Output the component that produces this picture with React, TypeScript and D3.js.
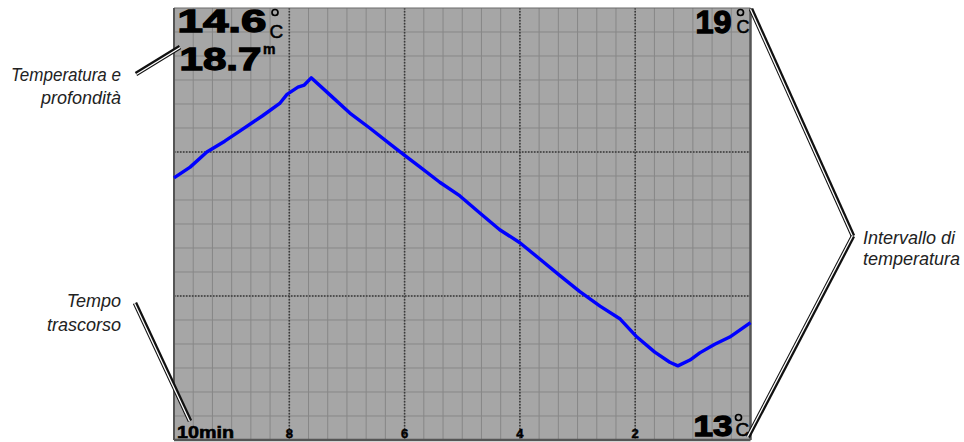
import React from "react";
import * as d3 from "d3";

// Elapsed time (minutes before now) and water temperature (°C)
const timeMin = [10, 9.72, 9.43, 9.12, 8.86, 8.47, 8.16, 8.04, 7.85, 7.74, 7.62, 7.29, 6.95, 6.6, 6.25, 6.01, 5.73, 5.39, 5.04, 4.69, 4.35, 4.0, 3.65, 3.3, 2.96, 2.61, 2.26, 1.97, 1.66, 1.4, 1.26, 1.05, 0.88, 0.62, 0.36, 0.0];
const tempC = [16.64, 16.79, 17.0, 17.15, 17.29, 17.5, 17.68, 17.8, 17.9, 17.93, 18.03, 17.79, 17.54, 17.33, 17.11, 16.96, 16.79, 16.58, 16.39, 16.15, 15.92, 15.74, 15.51, 15.28, 15.06, 14.86, 14.68, 14.43, 14.22, 14.08, 14.03, 14.11, 14.21, 14.33, 14.43, 14.63];

const xTickValues = [10, 8, 6, 4, 2];
const xTickLabels = ["10min", "8", "6", "4", "2"];
const majorTemps = [15, 17];
const tempRange = [13, 19];
const currentTemp = "14.6";
const currentDepth = "18.7";

const W = 964;
const H = 442;
const L = 174, R = 750.5, T = 8, B = 440;

function DoubleLine({ x1, y1, x2, y2 }: { x1: number; y1: number; x2: number; y2: number }) {
  const dx = x2 - x1, dy = y2 - y1;
  const len = Math.hypot(dx, dy);
  const nx = -dy / len, ny = dx / len;
  const o = 0.6;
  return (
    <g>
      <line x1={x1} y1={y1} x2={x2} y2={y2} stroke="#111" strokeWidth={4.6} />
      <line x1={x1 + nx * o} y1={y1 + ny * o} x2={x2 + nx * o} y2={y2 + ny * o} stroke="#fff" strokeWidth={1.3} />
    </g>
  );
}

export default function App() {
  const x = d3.scaleLinear().domain([10, 0]).range([L, R]);
  const y = d3.scaleLinear().domain([tempRange[0], tempRange[1]]).range([B, T]);
  const minorX = d3.range(1, 30).map((i) => i / 3);
  const minorY = d3.range(1, 18).map((i) => tempRange[0] + i / 3);
  const pts: [number, number][] = timeMin.map((t, i) => [t, tempC[i]]);
  const line = d3.line<[number, number]>().x((d) => x(d[0])).y((d) => y(d[1]));
  const font = "'Liberation Sans', Arial, sans-serif";

  const degC = (cx: number, cy: number, ctop: number, cx2: number, size: number) => (
    <g>
      <circle cx={cx} cy={cy} r={3} fill="none" stroke="#000" strokeWidth={1.7} />
      <text x={cx2} y={ctop} fontFamily={font} fontSize={size} fill="#000" stroke="#000" strokeWidth={0.5}>C</text>
    </g>
  );

  const heavy = { fontFamily: font, fontWeight: "bold" as const, stroke: "#000", strokeWidth: 1.3, fill: "#000" };

  return (
    <svg width={W} height={H} style={{ position: "absolute", left: 0, top: 0, display: "block", background: "#fff" }}>
      <rect x={L} y={T} width={R - L} height={B - T} fill="#a6a6a6" />
      {minorX.map((v) => (
        <line key={"vx" + v} x1={x(v)} x2={x(v)} y1={T} y2={B} stroke="#878787" strokeWidth={1} />
      ))}
      {minorY.map((v) => (
        <line key={"hy" + v} x1={L} x2={R} y1={y(v)} y2={y(v)} stroke="#878787" strokeWidth={1} />
      ))}
      {xTickValues.filter((v) => v !== 10).map((v) => (
        <line key={"mx" + v} x1={x(v)} x2={x(v)} y1={T} y2={B} stroke="#3a3a3a" strokeWidth={1.6} strokeDasharray="1.5,1.5" />
      ))}
      {majorTemps.map((v) => (
        <line key={"my" + v} x1={L} x2={R} y1={y(v)} y2={y(v)} stroke="#3a3a3a" strokeWidth={1.6} strokeDasharray="1.5,1.5" />
      ))}
      <line x1={L} x2={R} y1={T} y2={T} stroke="#6a6a6a" strokeWidth={1.2} />
      <line x1={L} x2={L} y1={T} y2={B} stroke="#555" strokeWidth={2} />
      <line x1={R} x2={R} y1={T} y2={B} stroke="#555" strokeWidth={2.5} />
      <line x1={L} x2={R} y1={B} y2={B} stroke="#555" strokeWidth={2.5} />

      <path d={line(pts) || ""} fill="none" stroke="#0000ff" strokeWidth={3.4} strokeLinejoin="round" />

      {/* readouts */}
      <text x={177.5} y={32} fontSize={31} textLength={89} lengthAdjust="spacingAndGlyphs" {...heavy}>{currentTemp}</text>
      {degC(275, 12.5, 38, 269.5, 19)}
      <text x={179.5} y={70} fontSize={32} textLength={82} lengthAdjust="spacingAndGlyphs" {...heavy}>{currentDepth}</text>
      <text x={263} y={54} fontFamily={font} fontWeight="bold" fontSize={14} stroke="#000" strokeWidth={0.5}>m</text>

      <text x={695.5} y={32.5} fontSize={31} textLength={36} lengthAdjust="spacingAndGlyphs" {...heavy}>{String(tempRange[1])}</text>
      {degC(740.5, 12.5, 32.5, 736.5, 18)}
      <text x={693.5} y={435.5} fontSize={30} textLength={39} lengthAdjust="spacingAndGlyphs" {...heavy}>{String(tempRange[0])}</text>
      {degC(738.5, 417.5, 436, 735.5, 19)}

      {xTickValues.map((v, i) =>
        i === 0 ? (
          <text key={"t" + v} x={177} y={438} fontSize={16.5} textLength={57} lengthAdjust="spacingAndGlyphs" {...heavy} strokeWidth={0.6}>{xTickLabels[i]}</text>
        ) : (
          <text key={"t" + v} x={x(v)} y={438} textAnchor="middle" fontSize={13} {...heavy} strokeWidth={0.5}>{xTickLabels[i]}</text>
        )
      )}

      {/* callouts */}
      <DoubleLine x1={136} y1={74} x2={180} y2={47} />
      <DoubleLine x1={135} y1={303} x2={190} y2={421} />
      <DoubleLine x1={751} y1={9} x2={853} y2={236} />
      <DoubleLine x1={853} y1={236} x2={748} y2={437} />

      <g fontFamily={font} fontStyle="italic" fontSize={18} fill="#222">
        <text x={121} y={81} textAnchor="end" textLength={110} lengthAdjust="spacingAndGlyphs">Temperatura e</text>
        <text x={121} y={103.5} textAnchor="end">profondità</text>
        <text x={121} y={307} textAnchor="end">Tempo</text>
        <text x={121} y={331} textAnchor="end">trascorso</text>
        <text x={863} y={244}>Intervallo di</text>
        <text x={863} y={265}>temperatura</text>
      </g>
    </svg>
  );
}
